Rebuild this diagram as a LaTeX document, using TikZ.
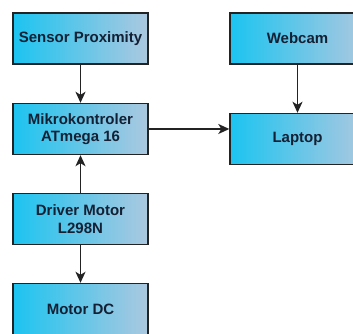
\documentclass[tikz,border=0pt]{standalone}
\usepackage{fontspec}
\setmainfont{Liberation Sans}
\usetikzlibrary{arrows.meta,shadings}
\definecolor{boxleft}{RGB}{28,196,240}
\definecolor{boxright}{RGB}{172,200,224}
\definecolor{txt}{RGB}{20,32,52}
\definecolor{edge}{RGB}{35,35,35}
\tikzset{
  block/.style={draw=edge, line width=1.4pt, left color=boxleft, right color=boxright,
    shading angle=90, minimum width=135pt, minimum height=51pt, inner sep=0pt,
    align=center, text=txt, font=\fontsize{15}{17.5}\selectfont\bfseries},
  conn/.style={draw=edge, line width=1.5pt, -{Stealth[length=11pt,width=10pt,inset=3pt]}}
}
\begin{document}
\begin{tikzpicture}[x=1pt,y=1pt]
\useasboundingbox (0,0) rectangle (353,334);
\clip (0,0) rectangle (353,334);
\fill[white] (0,0) rectangle (353,334);
\node[block] (sensor) at (80.5,295.5) {Sensor Proximity};
\node[block] (mikro) at (80.5,205) {Mikrokontroler\\ATmega 16};
\node[block] (driver) at (80.5,115) {Driver Motor\\L298N};
\node[block] (motor) at (80.5,25) {Motor DC};
\node[block] (webcam) at (297.5,295.5) {Webcam};
\node[block] (laptop) at (297.5,195) {Laptop};
\draw[conn] (sensor) -- (mikro);
\draw[conn] (driver) -- (mikro);
\draw[conn] (driver) -- (motor);
\draw[conn] (webcam) -- (laptop);
\draw[conn] (mikro.east) -- (laptop.west |- mikro.east);
\end{tikzpicture}
\end{document}
